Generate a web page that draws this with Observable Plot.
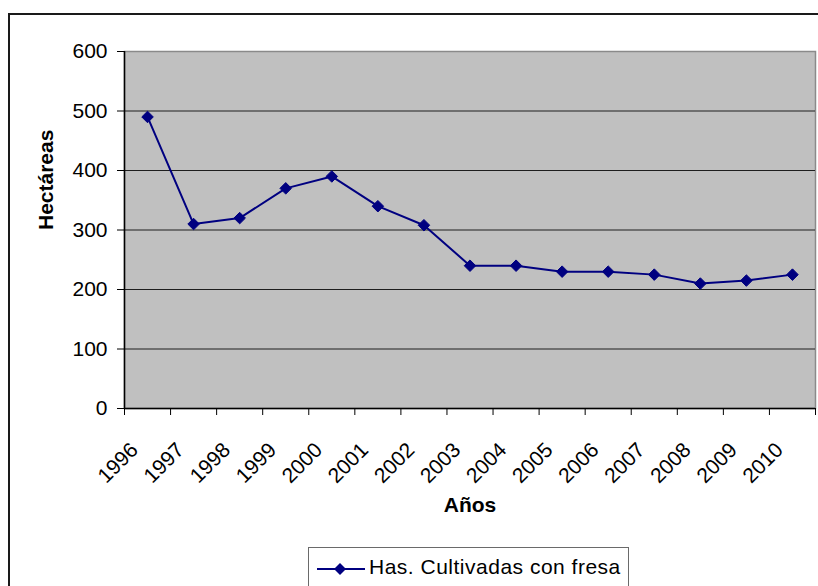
<!DOCTYPE html>
<html>
<head>
<meta charset="utf-8">
<script src="https://cdn.jsdelivr.net/npm/d3@7"></script>
<script src="https://cdn.jsdelivr.net/npm/@observablehq/plot@0.6"></script>
<style>
  html, body { margin: 0; padding: 0; background: #fff; }
  body { width: 818px; height: 586px; overflow: hidden; position: relative; font-family: "Liberation Sans", Arial, sans-serif; }
  #border { position: absolute; left: 8px; top: 13px; width: 900px; height: 700px; border: 2px solid #1a1a1a; box-sizing: border-box; }
  #chart { position: absolute; left: 0; top: 0; }
  #legend { position: absolute; left: 308px; top: 547px; width: 321px; height: 60px; border: 1px solid #6a6a6a; box-sizing: border-box; background: #fff; }
  #legend svg { position: absolute; left: 0; top: 0; }
  #legend span { position: absolute; left: 60px; top: 7px; font-size: 21px; letter-spacing: 0.5px; color: #000; white-space: nowrap; }
</style>
</head>
<body>
<div id="border"></div>
<div id="chart"></div>
<div id="legend">
  <svg width="60" height="40">
    <line x1="8" x2="56" y1="21" y2="21" stroke="#000080" stroke-width="2"></line>
    <path d="M31,15L37,21L31,27L25,21Z" fill="#000080"></path>
  </svg>
  <span>Has. Cultivadas con fresa</span>
</div>
<script>
// Hectares of strawberry cultivated per year
const years = [1996, 1997, 1998, 1999, 2000, 2001, 2002, 2003, 2004, 2005, 2006, 2007, 2008, 2009, 2010];
const hectares = [490, 310, 320, 370, 390, 340, 308, 240, 240, 230, 230, 225, 210, 215, 225];
const yTicks = [0, 100, 200, 300, 400, 500, 600];
const gridValues = [100, 200, 300, 400, 500];

const data = years.map((year, i) => ({year, value: hectares[i]}));
// category boundaries sit half a step either side of each year
const boundaries = [...years.map(y => y - 0.5), years[years.length - 1] + 0.5];

const chart = Plot.plot({
  width: 818,
  height: 586,
  marginLeft: 124,
  marginRight: 3,
  marginTop: 51,
  marginBottom: 178,
  style: {fontFamily: "Liberation Sans, Arial, sans-serif", fontSize: "21px", color: "#000", background: "transparent", overflow: "visible"},
  x: {domain: [years[0] - 0.5, years[years.length - 1] + 0.5]},
  y: {domain: [0, 600]},
  marks: [
    Plot.frame({fill: "#c0c0c0", stroke: "#8a8a8a", strokeWidth: 1.5}),
    Plot.ruleY(gridValues, {stroke: "#1e1e1e", strokeWidth: 1}),
    Plot.ruleY([0], {stroke: "#000", strokeWidth: 1.5}),
    Plot.ruleX([boundaries[0]], {stroke: "#000", strokeWidth: 1.5}),
    Plot.axisY(yTicks, {tickSize: 7, tickPadding: 10, label: null, fontSize: 21}),
    Plot.axisX(boundaries, {tickSize: 7, text: null, label: null}),
    Plot.axisX(years, {tickSize: 0, tickPadding: 0, tickRotate: -45, tickFormat: d => String(d), label: null, fontSize: 21, dx: -13, dy: 38}),
    Plot.text(["Hectáreas"], {frameAnchor: "left", dx: -78, rotate: -90, fontWeight: "bold", fontSize: 21}),
    Plot.text(["Años"], {frameAnchor: "bottom", dy: 103, fontWeight: "bold", fontSize: 21}),
    Plot.line(data, {x: "year", y: "value", stroke: "#000080", strokeWidth: 2}),
    Plot.dot(data, {x: "year", y: "value", symbol: "diamond2", r: 5.2, fill: "#000080", stroke: "#000080", strokeWidth: 1})
  ]
});
document.getElementById("chart").appendChild(chart);
</script>
</body>
</html>
